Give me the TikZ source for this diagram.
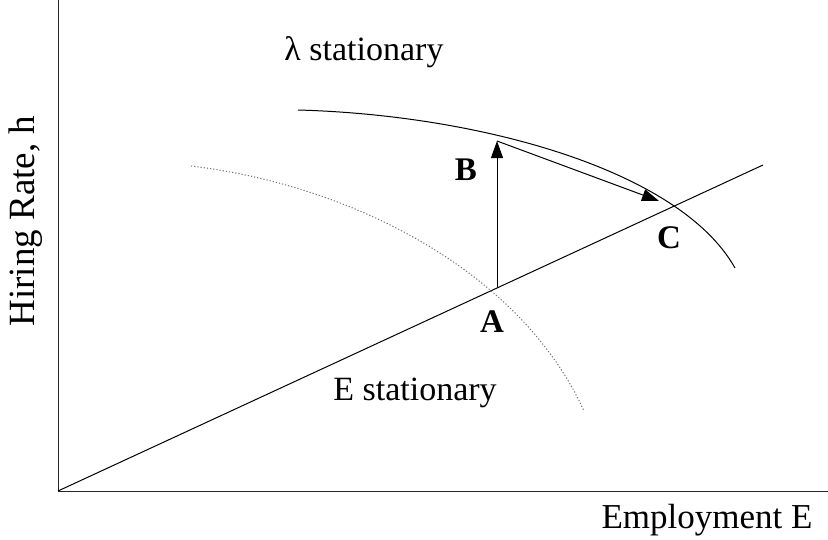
\documentclass[tikz,border=0pt]{standalone}
\usepackage{fontspec}
\setmainfont{Liberation Serif}
\usetikzlibrary{arrows.meta}
\begin{document}
\begin{tikzpicture}[x=1pt,y=-1pt,
  axis/.style={line width=1pt, draw=black!85},
  curve/.style={line width=1pt},
  dotcurve/.style={line width=1pt, draw=black!55, dash pattern=on 1.2pt off 2pt},
  arr/.style={line width=1pt, -{Triangle[length=17pt,width=12pt]}},
  lbl/.style={font=\fontsize{34}{38}\selectfont, inner sep=0pt},
  pt/.style={font=\fontsize{33}{36}\selectfont\bfseries, inner sep=0pt}]
\useasboundingbox (0,0) rectangle (828,539);
\coordinate (O) at (58,491);
\coordinate (Ytop) at (58,0);
\coordinate (Xend) at (828,491);
\coordinate (Lend) at (763,165);
\coordinate (A) at (497,287);
\coordinate (B) at (497,141);
\coordinate (C) at (659,201);
\draw[axis] (Ytop) -- (O) -- (Xend);
\draw[curve] (O) -- (Lend);
\draw[curve] (298,110) .. controls (480,115) and (680,170) .. (735,268);
\draw[dotcurve] (191,166) .. controls (350,185) and (520,270) .. (584,411);
\draw[arr] (A) -- (B);
\draw[arr] (B) -- (C);
\node[pt] (la) at (492,322) {A};
\node[pt] (lb) at (466,170) {B};
\node[pt] (lc) at (669,238) {C};
\node[lbl] (lam) at (364,52) {λ stationary};
\node[lbl] (est) at (415,393) {E stationary};
\node[lbl, font=\fontsize{35}{38}\selectfont] (xl) at (707,520) {Employment E};
\node[lbl, rotate=90, font=\fontsize{37}{40}\selectfont] (yl) at (26,221) {Hiring Rate, h};
\end{tikzpicture}
\end{document}
